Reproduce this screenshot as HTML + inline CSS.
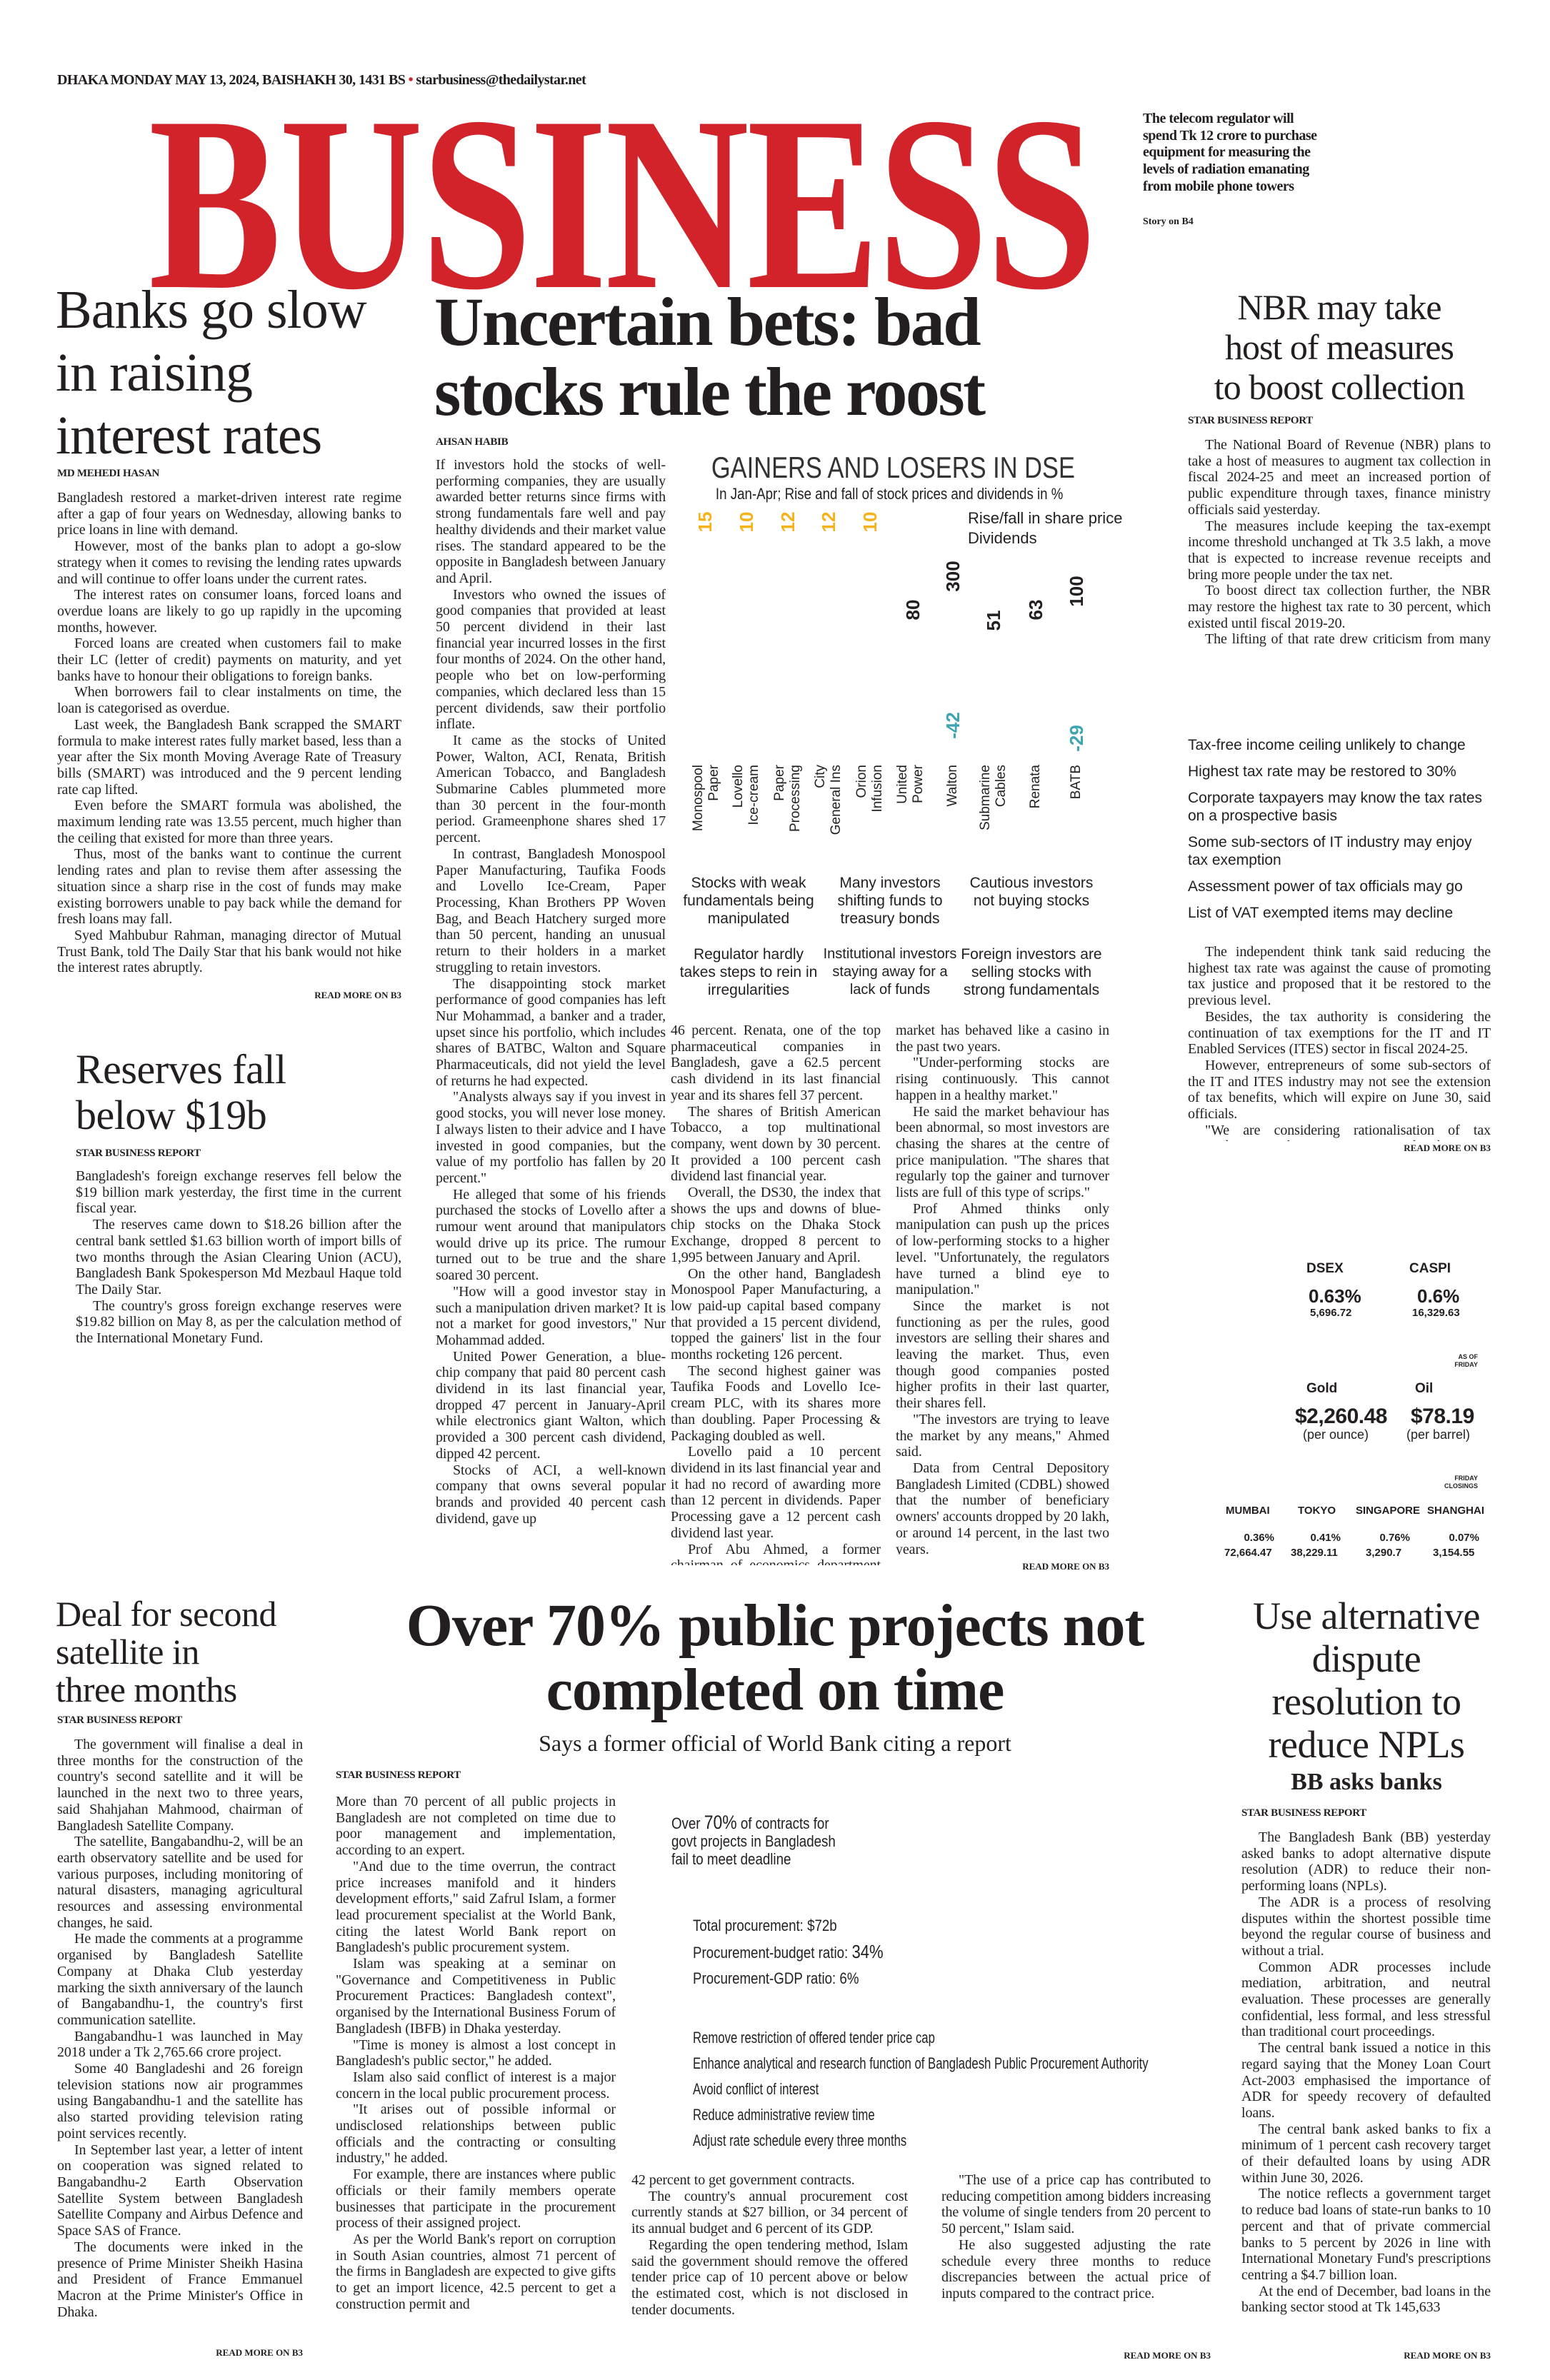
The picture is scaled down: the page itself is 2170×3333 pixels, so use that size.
<!DOCTYPE html>
<html><head><meta charset="utf-8">
<style>
*{margin:0;padding:0;box-sizing:border-box}
body{width:2170px;height:3333px;position:relative;background:#fff;color:#231f20;overflow:hidden;font-family:"Liberation Serif",serif}
.a{position:absolute}
.col{position:absolute;font:20px/22.7px "Liberation Serif",serif;text-align:justify;overflow:hidden;color:#231f20;letter-spacing:-.1px}
.col p{text-indent:1.2em}
.col p.ni{text-indent:0}
.by{position:absolute;font:bold 15px/18px "Liberation Serif",serif;letter-spacing:-.3px}
.rm{position:absolute;font:bold 13px/16px "Liberation Serif",serif;text-align:right}
.n{font-family:"Liberation Sans Narrow","Liberation Sans",sans-serif}
.rot{position:absolute;transform:rotate(-90deg);text-align:right;white-space:nowrap}
.mk{position:absolute;font-family:"Liberation Sans",sans-serif;font-weight:bold;white-space:nowrap}
</style></head><body>

<div class="a" style="left:80px;top:99px;font:bold 20px/26px 'Liberation Serif',serif;letter-spacing:-.6px;white-space:nowrap">DHAKA MONDAY MAY 13, 2024, BAISHAKH 30, 1431 BS <span style="color:#d2232a">&bull;</span> starbusiness@thedailystar.net</div>

<div class="a" style="left:208px;top:111px;font:bold 349px/349px 'Liberation Serif',serif;color:#d2232a;transform:scaleX(.8);transform-origin:0 0;white-space:nowrap;letter-spacing:-4px">BUSINESS</div>

<div class="a" style="left:1600px;top:155px;width:260px;font:bold 20px/23.7px 'Liberation Serif',serif;letter-spacing:-.5px">The telecom regulator will spend Tk 12 crore to purchase equipment for measuring the levels of radiation emanating from mobile phone towers</div>
<div class="a" style="left:1600px;top:302px;font:bold 14px/18px 'Liberation Serif',serif">Story on B4</div>

<!-- Banks go slow -->
<div class="a" style="left:78px;top:390px;width:500px;font:76px/88px 'Liberation Serif',serif;letter-spacing:-1px">Banks go slow<br>in raising<br>interest rates</div>
<div class="by" style="left:80px;top:654px">MD MEHEDI HASAN</div>
<div class="col" style="left:80px;top:686px;width:482px;height:705px">
<p class="ni">Bangladesh restored a market-driven interest rate regime after a gap of four years on Wednesday, allowing banks to price loans in line with demand.</p>
<p>However, most of the banks plan to adopt a go-slow strategy when it comes to revising the lending rates upwards and will continue to offer loans under the current rates.</p>
<p>The interest rates on consumer loans, forced loans and overdue loans are likely to go up rapidly in the upcoming months, however.</p>
<p>Forced loans are created when customers fail to make their LC (letter of credit) payments on maturity, and yet banks have to honour their obligations to foreign banks.</p>
<p>When borrowers fail to clear instalments on time, the loan is categorised as overdue.</p>
<p>Last week, the Bangladesh Bank scrapped the SMART formula to make interest rates fully market based, less than a year after the Six month Moving Average Rate of Treasury bills (SMART) was introduced and the 9 percent lending rate cap lifted.</p>
<p>Even before the SMART formula was abolished, the maximum lending rate was 13.55 percent, much higher than the ceiling that existed for more than three years.</p>
<p>Thus, most of the banks want to continue the current lending rates and plan to revise them after assessing the situation since a sharp rise in the cost of funds may make existing borrowers unable to pay back while the demand for fresh loans may fall.</p>
<p>Syed Mahbubur Rahman, managing director of Mutual Trust Bank, told The Daily Star that his bank would not hike the interest rates abruptly.</p>
</div>
<div class="rm" style="left:300px;width:262px;top:1386px">READ MORE ON B3</div>

<!-- Reserves -->
<div class="a" style="left:106px;top:1466px;width:460px;font:58px/64px 'Liberation Serif',serif;letter-spacing:-.5px">Reserves fall<br>below $19b</div>
<div class="by" style="left:106px;top:1606px">STAR BUSINESS REPORT</div>
<div class="col" style="left:106px;top:1636px;width:456px;height:290px">
<p class="ni">Bangladesh's foreign exchange reserves fell below the $19 billion mark yesterday, the first time in the current fiscal year.</p>
<p>The reserves came down to $18.26 billion after the central bank settled $1.63 billion worth of import bills of two months through the Asian Clearing Union (ACU), Bangladesh Bank Spokesperson Md Mezbaul Haque told The Daily Star.</p>
<p>The country's gross foreign exchange reserves were $19.82 billion on May 8, as per the calculation method of the International Monetary Fund.</p>
</div>

<!-- Uncertain bets -->
<div class="a" style="left:608px;top:402px;width:980px;font:bold 96px/98px 'Liberation Serif',serif;letter-spacing:-2.5px;white-space:nowrap">Uncertain bets: bad<br>stocks rule the roost</div>
<div class="by" style="left:610px;top:610px">AHSAN HABIB</div>
<div class="col" style="left:610px;top:640px;width:322px;height:1556px">
<p class="ni">If investors hold the stocks of well-performing companies, they are usually awarded better returns since firms with strong fundamentals fare well and pay healthy dividends and their market value rises. The standard appeared to be the opposite in Bangladesh between January and April.</p>
<p>Investors who owned the issues of good companies that provided at least 50 percent dividend in their last financial year incurred losses in the first four months of 2024. On the other hand, people who bet on low-performing companies, which declared less than 15 percent dividends, saw their portfolio inflate.</p>
<p>It came as the stocks of United Power, Walton, ACI, Renata, British American Tobacco, and Bangladesh Submarine Cables plummeted more than 30 percent in the four-month period. Grameenphone shares shed 17 percent.</p>
<p>In contrast, Bangladesh Monospool Paper Manufacturing, Taufika Foods and Lovello Ice-Cream, Paper Processing, Khan Brothers PP Woven Bag, and Beach Hatchery surged more than 50 percent, handing an unusual return to their holders in a market struggling to retain investors.</p>
<p>The disappointing stock market performance of good companies has left Nur Mohammad, a banker and a trader, upset since his portfolio, which includes shares of BATBC, Walton and Square Pharmaceuticals, did not yield the level of returns he had expected.</p>
<p>"Analysts always say if you invest in good stocks, you will never lose money. I always listen to their advice and I have invested in good companies, but the value of my portfolio has fallen by 20 percent."</p>
<p>He alleged that some of his friends purchased the stocks of Lovello after a rumour went around that manipulators would drive up its price. The rumour turned out to be true and the share soared 30 percent.</p>
<p>"How will a good investor stay in such a manipulation driven market? It is not a market for good investors," Nur Mohammad added.</p>
<p>United Power Generation, a blue-chip company that paid 80 percent cash dividend in its last financial year, dropped 47 percent in January-April while electronics giant Walton, which provided a 300 percent cash dividend, dipped 42 percent.</p>
<p>Stocks of ACI, a well-known company that owns several popular brands and provided 40 percent cash dividend, gave up</p>
</div>

<!-- Chart -->
<div class="a n" style="left:940px;top:630px;width:610px;text-align:center;font-size:42px;line-height:50px;color:#333;white-space:nowrap"><span style="display:inline-block;transform:scaleX(.82)">GAINERS AND LOSERS IN DSE</span></div>
<div class="a n" style="left:940px;top:679px;width:610px;text-align:center;font-size:22px;line-height:26px;white-space:nowrap"><span style="display:inline-block;transform:scaleX(.85)">In Jan-Apr; Rise and fall of stock prices and dividends in %</span></div>
<div class="a n" style="left:1355px;top:712px;font-size:22px;line-height:28px;white-space:nowrap">Rise/fall in share price<br>Dividends</div>

<div class="rot n" style="left:957px;top:716px;width:60px;height:30px;line-height:30px;text-align:center;font-size:26px;font-weight:bold;color:#f5b21a">15</div>
<div class="rot n" style="left:1015px;top:716px;width:60px;height:30px;line-height:30px;text-align:center;font-size:26px;font-weight:bold;color:#f5b21a">10</div>
<div class="rot n" style="left:1073px;top:716px;width:60px;height:30px;line-height:30px;text-align:center;font-size:26px;font-weight:bold;color:#f5b21a">12</div>
<div class="rot n" style="left:1130px;top:716px;width:60px;height:30px;line-height:30px;text-align:center;font-size:26px;font-weight:bold;color:#f5b21a">12</div>
<div class="rot n" style="left:1188px;top:716px;width:60px;height:30px;line-height:30px;text-align:center;font-size:26px;font-weight:bold;color:#f5b21a">10</div>

<div class="rot n" style="left:1248px;top:839px;width:60px;height:30px;line-height:30px;text-align:center;font-size:26px;font-weight:bold">80</div>
<div class="rot n" style="left:1304px;top:792px;width:60px;height:30px;line-height:30px;text-align:center;font-size:26px;font-weight:bold">300</div>
<div class="rot n" style="left:1361px;top:854px;width:60px;height:30px;line-height:30px;text-align:center;font-size:26px;font-weight:bold">51</div>
<div class="rot n" style="left:1420px;top:839px;width:60px;height:30px;line-height:30px;text-align:center;font-size:26px;font-weight:bold">63</div>
<div class="rot n" style="left:1477px;top:813px;width:60px;height:30px;line-height:30px;text-align:center;font-size:26px;font-weight:bold">100</div>
<div class="rot n" style="left:1304px;top:1001px;width:60px;height:30px;line-height:30px;text-align:center;font-size:26px;font-weight:bold;color:#3ea5b0">-42</div>
<div class="rot n" style="left:1477px;top:1019px;width:60px;height:30px;line-height:30px;text-align:center;font-size:26px;font-weight:bold;color:#3ea5b0">-29</div>

<div class="rot n" style="left:914px;top:1124px;width:150px;height:44px;font-size:19px;line-height:22px">Monospool<br>Paper</div>
<div class="rot n" style="left:970px;top:1124px;width:150px;height:44px;font-size:19px;line-height:22px">Lovello<br>Ice-cream</div>
<div class="rot n" style="left:1028px;top:1124px;width:150px;height:44px;font-size:19px;line-height:22px">Paper<br>Processing</div>
<div class="rot n" style="left:1085px;top:1124px;width:150px;height:44px;font-size:19px;line-height:22px">City<br>General Ins</div>
<div class="rot n" style="left:1143px;top:1124px;width:150px;height:44px;font-size:19px;line-height:22px">Orion<br>Infusion</div>
<div class="rot n" style="left:1200px;top:1124px;width:150px;height:44px;font-size:19px;line-height:22px">United<br>Power</div>
<div class="rot n" style="left:1259px;top:1135px;width:150px;height:22px;font-size:19px;line-height:22px">Walton</div>
<div class="rot n" style="left:1316px;top:1124px;width:150px;height:44px;font-size:19px;line-height:22px">Submarine<br>Cables</div>
<div class="rot n" style="left:1375px;top:1135px;width:150px;height:22px;font-size:19px;line-height:22px">Renata</div>
<div class="rot n" style="left:1432px;top:1135px;width:150px;height:22px;font-size:19px;line-height:22px">BATB</div>

<div class="a n" style="left:948px;top:1224px;width:200px;text-align:center;font-size:21px;line-height:25px">Stocks with weak fundamentals being manipulated</div>
<div class="a n" style="left:1146px;top:1224px;width:200px;text-align:center;font-size:21px;line-height:25px">Many investors shifting funds to treasury bonds</div>
<div class="a n" style="left:1344px;top:1224px;width:200px;text-align:center;font-size:21px;line-height:25px">Cautious investors not buying stocks</div>
<div class="a n" style="left:948px;top:1324px;width:200px;text-align:center;font-size:21px;line-height:25px">Regulator hardly takes steps to rein in irregularities</div>
<div class="a n" style="left:1146px;top:1324px;width:200px;text-align:center;font-size:20px;line-height:25px">Institutional investors staying away for a lack of funds</div>
<div class="a n" style="left:1339px;top:1324px;width:210px;text-align:center;font-size:21px;line-height:25px">Foreign investors are selling stocks with strong fundamentals</div>

<div class="col" style="left:939px;top:1432px;width:294px;height:760px">
<p class="ni">46 percent. Renata, one of the top pharmaceutical companies in Bangladesh, gave a 62.5 percent cash dividend in its last financial year and its shares fell 37 percent.</p>
<p>The shares of British American Tobacco, a top multinational company, went down by 30 percent. It provided a 100 percent cash dividend last financial year.</p>
<p>Overall, the DS30, the index that shows the ups and downs of blue-chip stocks on the Dhaka Stock Exchange, dropped 8 percent to 1,995 between January and April.</p>
<p>On the other hand, Bangladesh Monospool Paper Manufacturing, a low paid-up capital based company that provided a 15 percent dividend, topped the gainers' list in the four months rocketing 126 percent.</p>
<p>The second highest gainer was Taufika Foods and Lovello Ice-cream PLC, with its shares more than doubling. Paper Processing &amp; Packaging doubled as well.</p>
<p>Lovello paid a 10 percent dividend in its last financial year and it had no record of awarding more than 12 percent in dividends. Paper Processing gave a 12 percent cash dividend last year.</p>
<p>Prof Abu Ahmed, a former chairman of economics department at the University of Dhaka, said the</p>
</div>
<div class="col" style="left:1254px;top:1432px;width:299px;height:745px">
<p class="ni">market has behaved like a casino in the past two years.</p>
<p>"Under-performing stocks are rising continuously. This cannot happen in a healthy market."</p>
<p>He said the market behaviour has been abnormal, so most investors are chasing the shares at the centre of price manipulation. "The shares that regularly top the gainer and turnover lists are full of this type of scrips."</p>
<p>Prof Ahmed thinks only manipulation can push up the prices of low-performing stocks to a higher level. "Unfortunately, the regulators have turned a blind eye to manipulation."</p>
<p>Since the market is not functioning as per the rules, good investors are selling their shares and leaving the market. Thus, even though good companies posted higher profits in their last quarter, their shares fell.</p>
<p>"The investors are trying to leave the market by any means," Ahmed said.</p>
<p>Data from Central Depository Bangladesh Limited (CDBL) showed that the number of beneficiary owners' accounts dropped by 20 lakh, or around 14 percent, in the last two years.</p>
</div>
<div class="rm" style="left:1300px;width:253px;top:2186px">READ MORE ON B3</div>

<!-- NBR -->
<div class="a" style="left:1683px;top:402px;width:384px;text-align:center;font:50px/56px 'Liberation Serif',serif;letter-spacing:-1px">NBR may take<br>host of measures<br>to boost collection</div>
<div class="by" style="left:1663px;top:580px">STAR BUSINESS REPORT</div>
<div class="col" style="left:1663px;top:612px;width:424px;height:295px">
<p>The National Board of Revenue (NBR) plans to take a host of measures to augment tax collection in fiscal 2024-25 and meet an increased portion of public expenditure through taxes, finance ministry officials said yesterday.</p>
<p>The measures include keeping the tax-exempt income threshold unchanged at Tk 3.5 lakh, a move that is expected to increase revenue receipts and bring more people under the tax net.</p>
<p>To boost direct tax collection further, the NBR may restore the highest tax rate to 30 percent, which existed until fiscal 2019-20.</p>
<p>The lifting of that rate drew criticism from many quarters, particularly from the Centre for Policy Dialogue (CPD).</p>
</div>
<div class="a n" style="left:1663px;top:1031px;width:420px;font-size:21px;line-height:25px">
<div style="margin-bottom:12px">Tax-free income ceiling unlikely to change</div>
<div style="margin-bottom:12px">Highest tax rate may be restored to 30%</div>
<div style="margin-bottom:12px">Corporate taxpayers may know the tax rates on a prospective basis</div>
<div style="margin-bottom:12px">Some sub-sectors of IT industry may enjoy tax exemption</div>
<div style="margin-bottom:12px">Assessment power of tax officials may go</div>
<div>List of VAT exempted items may decline</div>
</div>
<div class="col" style="left:1663px;top:1322px;width:424px;height:276px">
<p>The independent think tank said reducing the highest tax rate was against the cause of promoting tax justice and proposed that it be restored to the previous level.</p>
<p>Besides, the tax authority is considering the continuation of tax exemptions for the IT and IT Enabled Services (ITES) sector in fiscal 2024-25.</p>
<p>However, entrepreneurs of some sub-sectors of the IT and ITES industry may not see the extension of tax benefits, which will expire on June 30, said officials.</p>
<p>"We are considering rationalisation of tax expenditure, such as exemption and rebates, to increase revenue collection," a senior official said after a meeting with Finance Minister Abul Hassan</p>
</div>
<div class="rm" style="left:1800px;width:287px;top:1600px">READ MORE ON B3</div>

<!-- market -->
<div class="mk" style="left:1829px;top:1766px;font-size:19px">DSEX</div>
<div class="mk" style="left:1973px;top:1766px;font-size:19px">CASPI</div>
<div class="mk" style="left:1832px;top:1800px;font-size:26px">0.63%</div>
<div class="mk" style="left:1984px;top:1800px;font-size:26px">0.6%</div>
<div class="mk" style="left:1834px;top:1830px;font-size:15px">5,696.72</div>
<div class="mk" style="left:1977px;top:1830px;font-size:15px">16,329.63</div>
<div class="mk" style="left:2000px;top:1895px;width:69px;text-align:right;font-size:9px;line-height:11px">AS OF<br>FRIDAY</div>
<div class="mk" style="left:1829px;top:1934px;font-size:19px">Gold</div>
<div class="mk" style="left:1981px;top:1934px;font-size:19px">Oil</div>
<div class="mk" style="left:1813px;top:1967px;font-size:30px;letter-spacing:-.5px">$2,260.48</div>
<div class="mk" style="left:1975px;top:1967px;font-size:30px;letter-spacing:-.5px">$78.19</div>
<div class="mk" style="left:1824px;top:1999px;font-size:18px;font-weight:normal">(per ounce)</div>
<div class="mk" style="left:1969px;top:1999px;font-size:18px;font-weight:normal">(per barrel)</div>
<div class="mk" style="left:2000px;top:2065px;width:69px;text-align:right;font-size:9px;line-height:11px">FRIDAY<br>CLOSINGS</div>
<div class="mk" style="left:1716px;top:2107px;font-size:15px">MUMBAI</div>
<div class="mk" style="left:1817px;top:2107px;font-size:15px">TOKYO</div>
<div class="mk" style="left:1898px;top:2107px;font-size:15px">SINGAPORE</div>
<div class="mk" style="left:1998px;top:2107px;font-size:15px">SHANGHAI</div>
<div class="mk" style="left:1704px;width:80px;text-align:right;top:2145px;font-size:15px">0.36%</div>
<div class="mk" style="left:1797px;width:80px;text-align:right;top:2145px;font-size:15px">0.41%</div>
<div class="mk" style="left:1894px;width:80px;text-align:right;top:2145px;font-size:15px">0.76%</div>
<div class="mk" style="left:1991px;width:80px;text-align:right;top:2145px;font-size:15px">0.07%</div>
<div class="mk" style="left:1714px;top:2166px;font-size:15px">72,664.47</div>
<div class="mk" style="left:1807px;top:2166px;font-size:15px">38,229.11</div>
<div class="mk" style="left:1912px;top:2166px;font-size:15px">3,290.7</div>
<div class="mk" style="left:2006px;top:2166px;font-size:15px">3,154.55</div>

<!-- Deal for second satellite -->
<div class="a" style="left:78px;top:2234px;width:380px;font:50px/53px 'Liberation Serif',serif;letter-spacing:-.5px;white-space:nowrap">Deal for second<br>satellite in<br>three months</div>
<div class="by" style="left:80px;top:2400px">STAR BUSINESS REPORT</div>
<div class="col" style="left:80px;top:2432px;width:344px;height:815px">
<p>The government will finalise a deal in three months for the construction of the country's second satellite and it will be launched in the next two to three years, said Shahjahan Mahmood, chairman of Bangladesh Satellite Company.</p>
<p>The satellite, Bangabandhu-2, will be an earth observatory satellite and be used for various purposes, including monitoring of natural disasters, managing agricultural resources and assessing environmental changes, he said.</p>
<p>He made the comments at a programme organised by Bangladesh Satellite Company at Dhaka Club yesterday marking the sixth anniversary of the launch of Bangabandhu-1, the country's first communication satellite.</p>
<p>Bangabandhu-1 was launched in May 2018 under a Tk 2,765.66 crore project.</p>
<p>Some 40 Bangladeshi and 26 foreign television stations now air programmes using Bangabandhu-1 and the satellite has also started providing television rating point services recently.</p>
<p>In September last year, a letter of intent on cooperation was signed related to Bangabandhu-2 Earth Observation Satellite System between Bangladesh Satellite Company and Airbus Defence and Space SAS of France.</p>
<p>The documents were inked in the presence of Prime Minister Sheikh Hasina and President of France Emmanuel Macron at the Prime Minister's Office in Dhaka.</p>
</div>
<div class="rm" style="left:200px;width:224px;top:3287px">READ MORE ON B3</div>

<!-- Over 70% -->
<div class="a" style="left:440px;top:2232px;width:1290px;text-align:center;font:bold 84px/90px 'Liberation Serif',serif;letter-spacing:-1px;white-space:nowrap">Over 70% public projects not<br>completed on time</div>
<div class="a" style="left:440px;top:2421px;width:1290px;text-align:center;font:32px/40px 'Liberation Serif',serif">Says a former official of World Bank citing a report</div>
<div class="by" style="left:470px;top:2477px">STAR BUSINESS REPORT</div>
<div class="col" style="left:470px;top:2512px;width:392px;height:730px">
<p class="ni">More than 70 percent of all public projects in Bangladesh are not completed on time due to poor management and implementation, according to an expert.</p>
<p>"And due to the time overrun, the contract price increases manifold and it hinders development efforts," said Zafrul Islam, a former lead procurement specialist at the World Bank, citing the latest World Bank report on Bangladesh's public procurement system.</p>
<p>Islam was speaking at a seminar on "Governance and Competitiveness in Public Procurement Practices: Bangladesh context", organised by the International Business Forum of Bangladesh (IBFB) in Dhaka yesterday.</p>
<p>"Time is money is almost a lost concept in Bangladesh's public sector," he added.</p>
<p>Islam also said conflict of interest is a major concern in the local public procurement process.</p>
<p>"It arises out of possible informal or undisclosed relationships between public officials and the contracting or consulting industry," he added.</p>
<p>For example, there are instances where public officials or their family members operate businesses that participate in the procurement process of their assigned project.</p>
<p>As per the World Bank's report on corruption in South Asian countries, almost 71 percent of the firms in Bangladesh are expected to give gifts to get an import licence, 42.5 percent to get a construction permit and</p>
</div>
<div class="a n" style="left:940px;top:2540px;font-size:22px;line-height:25px;white-space:nowrap;transform:scaleX(.85);transform-origin:0 0">Over <span style="font-size:27px">70%</span> of contracts for<br>govt projects in Bangladesh<br>fail to meet deadline</div>
<div class="a n" style="left:970px;top:2679px;font-size:22px;line-height:36px;white-space:nowrap;transform:scaleX(.85);transform-origin:0 0">Total procurement: $72b<br>Procurement-budget ratio: <span style="font-size:26px">34%</span><br>Procurement-GDP ratio: 6%</div>
<div class="a n" style="left:970px;top:2836px;font-size:22px;line-height:36px;white-space:nowrap;transform:scaleX(.76);transform-origin:0 0">Remove restriction of offered tender price cap<br>Enhance analytical and research function of Bangladesh Public Procurement Authority<br>Avoid conflict of interest<br>Reduce administrative review time<br>Adjust rate schedule every three months</div>
<div class="col" style="left:884px;top:3042px;width:387px;height:200px">
<p class="ni">42 percent to get government contracts.</p>
<p>The country's annual procurement cost currently stands at $27 billion, or 34 percent of its annual budget and 6 percent of its GDP.</p>
<p>Regarding the open tendering method, Islam said the government should remove the offered tender price cap of 10 percent above or below the estimated cost, which is not disclosed in tender documents.</p>
</div>
<div class="col" style="left:1318px;top:3042px;width:377px;height:200px">
<p>"The use of a price cap has contributed to reducing competition among bidders increasing the volume of single tenders from 20 percent to 50 percent," Islam said.</p>
<p>He also suggested adjusting the rate schedule every three months to reduce discrepancies between the actual price of inputs compared to the contract price.</p>
</div>
<div class="rm" style="left:1450px;width:245px;top:3291px">READ MORE ON B3</div>

<!-- NPL -->
<div class="a" style="left:1733px;top:2233px;width:360px;text-align:center;font:54px/60px 'Liberation Serif',serif;letter-spacing:-.5px">Use alternative dispute resolution to reduce NPLs</div>
<div class="a" style="left:1733px;top:2476px;width:360px;text-align:center;font:bold 34px/40px 'Liberation Serif',serif">BB asks banks</div>
<div class="by" style="left:1738px;top:2530px">STAR BUSINESS REPORT</div>
<div class="col" style="left:1738px;top:2562px;width:349px;height:720px">
<p>The Bangladesh Bank (BB) yesterday asked banks to adopt alternative dispute resolution (ADR) to reduce their non-performing loans (NPLs).</p>
<p>The ADR is a process of resolving disputes within the shortest possible time beyond the regular course of business and without a trial.</p>
<p>Common ADR processes include mediation, arbitration, and neutral evaluation. These processes are generally confidential, less formal, and less stressful than traditional court proceedings.</p>
<p>The central bank issued a notice in this regard saying that the Money Loan Court Act-2003 emphasised the importance of ADR for speedy recovery of defaulted loans.</p>
<p>The central bank asked banks to fix a minimum of 1 percent cash recovery target of their defaulted loans by using ADR within June 30, 2026.</p>
<p>The notice reflects a government target to reduce bad loans of state-run banks to 10 percent and that of private commercial banks to 5 percent by 2026 in line with International Monetary Fund's prescriptions centring a $4.7 billion loan.</p>
<p>At the end of December, bad loans in the banking sector stood at Tk 145,633</p>
</div>
<div class="rm" style="left:1850px;width:237px;top:3291px">READ MORE ON B3</div>

</body></html>
